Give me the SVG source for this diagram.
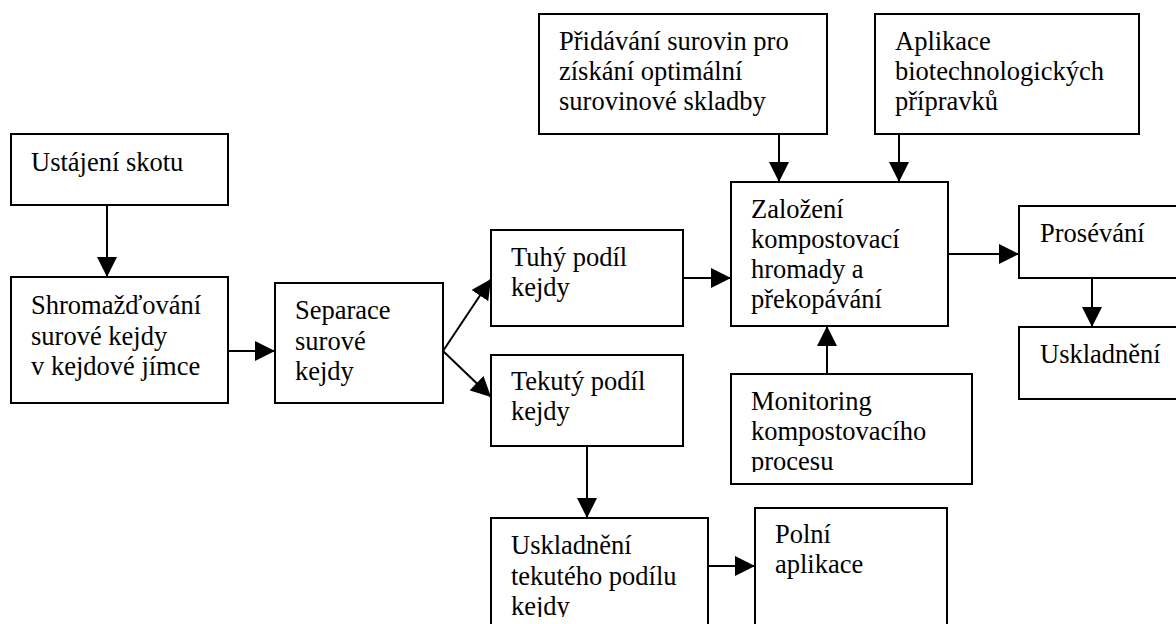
<svg xmlns="http://www.w3.org/2000/svg" width="1176" height="624" viewBox="0 0 1176 624">
<style>
.box{fill:#fff;stroke:#000;stroke-width:2}
.t{font-family:"Liberation Serif","Times New Roman",serif;font-size:26.5px;fill:#000}
.c{stroke:#000;stroke-width:2;fill:none;marker-end:url(#ah)}
</style>
<defs>
<marker id="ah" markerUnits="userSpaceOnUse" markerWidth="20" markerHeight="20" refX="20" refY="10" orient="auto">
<path d="M0,0 L20,10 L0,20 Z" fill="#000"/>
</marker>
<clipPath id="clipMon"><rect x="731" y="374" width="241" height="98"/></clipPath>
<clipPath id="clipUsk"><rect x="491" y="518" width="217" height="99"/></clipPath>
</defs>
<rect width="1176" height="624" fill="#fff"/>
<g id="n1"><rect class="box" x="11" y="134" width="217" height="71"/><text class="t" x="31" y="171">Ustájení skotu</text></g>
<g id="n2"><rect class="box" x="11" y="277" width="217" height="126"/><text class="t" x="31" y="314">Shromažďování<tspan x="31" dy="30.5">surové kejdy</tspan><tspan x="31" dy="30.5">v kejdové jímce</tspan></text></g>
<g id="n3"><rect class="box" x="275" y="283" width="168" height="120"/><text class="t" x="295" y="319">Separace<tspan x="295" dy="30.5">surové</tspan><tspan x="295" dy="30.5">kejdy</tspan></text></g>
<g id="n4"><rect class="box" x="491" y="230" width="192" height="96"/><text class="t" x="511" y="266">Tuhý podíl<tspan x="511" dy="30">kejdy</tspan></text></g>
<g id="n5"><rect class="box" x="491" y="355" width="192" height="91"/><text class="t" x="511" y="390">Tekutý podíl<tspan x="511" dy="30">kejdy</tspan></text></g>
<g id="n6"><rect class="box" x="491" y="518" width="217" height="130"/><text class="t" x="511" y="554" clip-path="url(#clipUsk)">Uskladnění<tspan x="511" dy="30.5">tekutého podílu</tspan><tspan x="511" dy="30.5">kejdy</tspan></text></g>
<g id="n7"><rect class="box" x="755" y="508" width="192" height="140"/><text class="t" x="775" y="543">Polní<tspan x="775" dy="30">aplikace</tspan></text></g>
<g id="n8"><rect class="box" x="731" y="182" width="217" height="144"/><text class="t" x="751" y="218">Založení<tspan x="751" dy="30">kompostovací</tspan><tspan x="751" dy="30">hromady a</tspan><tspan x="751" dy="30">překopávání</tspan></text></g>
<g id="n9"><rect class="box" x="539" y="14" width="288" height="120"/><text class="t" x="559" y="50">Přidávání surovin pro<tspan x="559" dy="30">získání optimální</tspan><tspan x="559" dy="30">surovinové skladby</tspan></text></g>
<g id="n10"><rect class="box" x="875" y="14" width="264" height="120"/><text class="t" x="895" y="50">Aplikace<tspan x="895" dy="30">biotechnologických</tspan><tspan x="895" dy="30">přípravků</tspan></text></g>
<g id="n11"><rect class="box" x="731" y="374" width="241" height="110"/><text class="t" x="751" y="410" clip-path="url(#clipMon)">Monitoring<tspan x="751" dy="30">kompostovacího</tspan><tspan x="751" dy="30">procesu</tspan></text></g>
<g id="n12"><rect class="box" x="1019" y="206" width="200" height="72"/><text class="t" x="1040" y="242">Prosévání</text></g>
<g id="n13"><rect class="box" x="1019" y="327" width="200" height="72"/><text class="t" x="1040" y="363">Uskladnění</text></g>
<g id="connectors">
<line class="c" x1="107" y1="205" x2="107" y2="277"/>
<line class="c" x1="228" y1="351" x2="275" y2="351"/>
<line class="c" x1="443" y1="351" x2="491" y2="279"/>
<line class="c" x1="443" y1="351" x2="491" y2="397"/>
<line class="c" x1="683" y1="278" x2="731" y2="278"/>
<line class="c" x1="779" y1="134" x2="779" y2="182"/>
<line class="c" x1="899" y1="134" x2="899" y2="182"/>
<line class="c" x1="827" y1="374" x2="827" y2="326"/>
<line class="c" x1="948" y1="254" x2="1019" y2="254"/>
<line class="c" x1="1092" y1="278" x2="1092" y2="327"/>
<line class="c" x1="587" y1="446" x2="587" y2="518"/>
<line class="c" x1="708" y1="566" x2="755" y2="566"/>
</g>
</svg>
